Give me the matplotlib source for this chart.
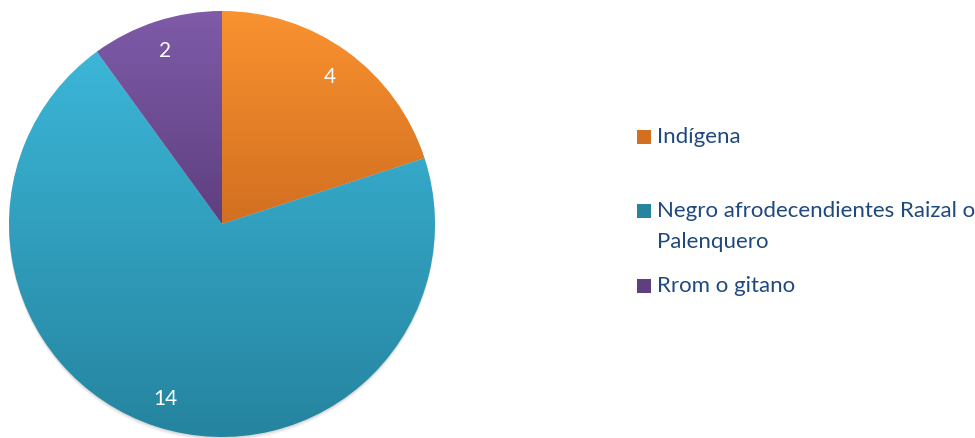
import numpy as np
import matplotlib.pyplot as plt
import matplotlib.patches as mpatches
from matplotlib.colors import LinearSegmentedColormap

categories = ['Indígena', 'Negro afrodecendientes Raizal o\nPalenquero', 'Rrom o gitano']
values = [4, 14, 2]
top_colors = ['#F9922F', '#3CB6D8', '#7F5BA8']
bottom_colors = ['#D26F21', '#25849F', '#5E3F80']
text_color = '#1F497D'

plt.rcParams['font.family'] = ['Lato', 'DejaVu Sans']

W, H = 975, 439
fig = plt.figure(figsize=(W / 100, H / 100), dpi=100)

# pie axes: centre (222,225) px, radius 213 px
cx, cy, r = 222, 225, 213
ax = fig.add_axes([(cx - r) / W, (H - cy - r) / H, 2 * r / W, 2 * r / H])
ax.set_xlim(-1, 1)
ax.set_ylim(-1, 1)
ax.axis('off')

# soft shadow under the pie
for k, a in enumerate([0.06, 0.05, 0.04]):
    ax.add_patch(mpatches.Circle((0, -0.006 - 0.006 * k), 1.0, color='black', alpha=a,
                                 lw=0, zorder=0, clip_on=False))

total = sum(values)
wedges, _, autotexts = ax.pie(values, startangle=90, counterclock=False, radius=1,
                              autopct=lambda p: '{:d}'.format(int(round(p * total / 100))),
                              pctdistance=0.86, wedgeprops=dict(lw=0),
                              textprops=dict(color='white', fontsize=15))
ax.set_xlim(-1, 1)
ax.set_ylim(-1, 1)

# vertical gradient fill for each slice
for w, c1, c2 in zip(wedges, top_colors, bottom_colors):
    ext = w.get_path().get_extents()
    cmap = LinearSegmentedColormap.from_list('g', [c2, c1])
    grad = np.linspace(0, 1, 256).reshape(-1, 1)
    im = ax.imshow(grad, cmap=cmap, origin='lower', aspect='auto',
                   extent=[ext.x0, ext.x1, ext.y0, ext.y1], zorder=1)
    im.set_clip_path(w)
    w.set_facecolor('none')
for t in autotexts:
    t.set_zorder(5)

# legend (rows centred at these pixel heights)
legend_y = [138, 212, 287]
for lab, y, c1, c2 in zip(categories, legend_y, top_colors, bottom_colors):
    fig.patches.append(mpatches.Rectangle((637 / W, 1 - (y + 7) / H), 14 / W, 14 / H,
                                          transform=fig.transFigure, color=c2, lw=0))
    fig.text(657 / W, 1 - (y - 11) / H, lab, color=text_color, fontsize=16,
             va='top', ha='left', linespacing=1.66)

fig.savefig('out.png', dpi=100)
